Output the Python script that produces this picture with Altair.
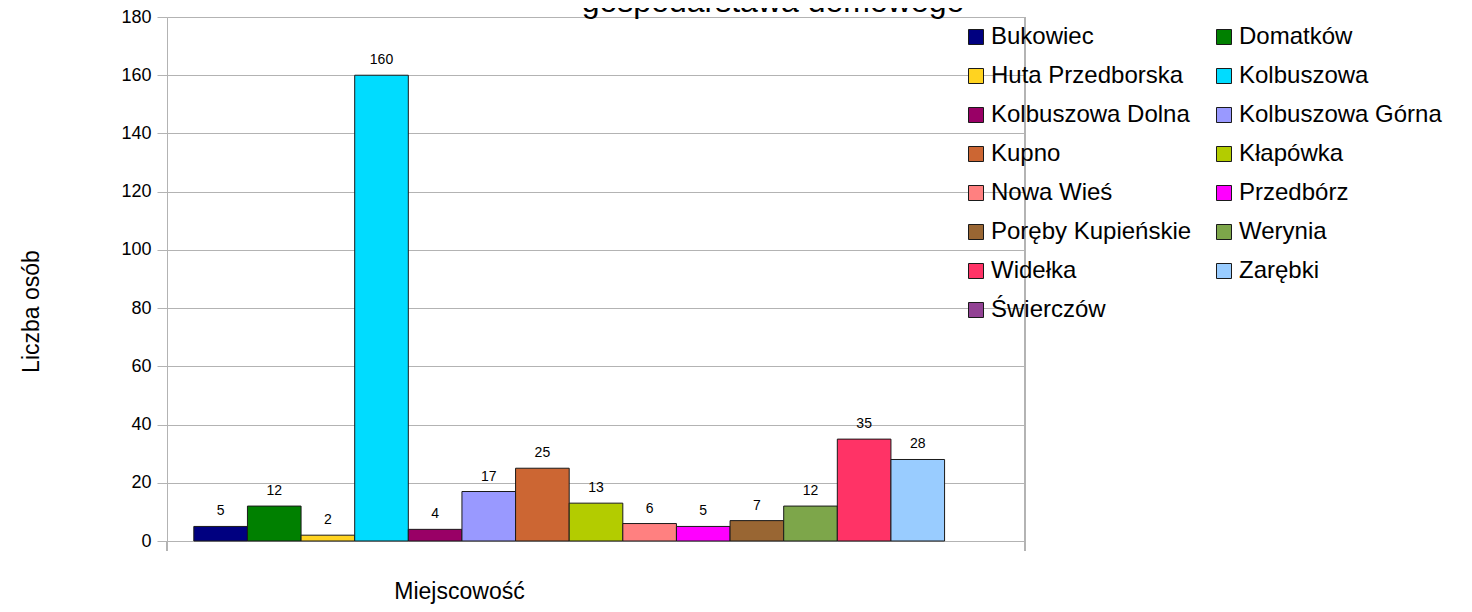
import altair as alt
import pandas as pd

CATEGORIES = [
    "Bukowiec", "Domatków", "Huta Przedborska", "Kolbuszowa", "Kolbuszowa Dolna",
    "Kolbuszowa Górna", "Kupno", "Kłapówka", "Nowa Wieś", "Przedbórz",
    "Poręby Kupieńskie", "Werynia", "Widełka", "Zarębki", "Świerczów",
]
VALUES = [5, 12, 2, 160, 4, 17, 25, 13, 6, 5, 7, 12, 35, 28, 0]
COLORS = [
    "#000080", "#008000", "#ffd320", "#00dcff", "#990066",
    "#9999ff", "#cc6633", "#b3cc00", "#ff8080", "#ff00ff",
    "#996633", "#7da64a", "#ff3366", "#99ccff", "#924294",
]
Y_TICKS = [0, 20, 40, 60, 80, 100, 120, 140, 160, 180]
TITLE_TEXT = ["gospodarstawa domowego"]
X_TITLE = "Miejscowość"
Y_TITLE = "Liczba osób"

FONT = "Liberation Sans"
GRID = "#b3b3b3"
W, H = 858, 524

# legend is filled column by column: reorder so it reads row by row (2 columns)
LEG_DOMAIN = CATEGORIES[0::2] + CATEGORIES[1::2]
LEG_RANGE = COLORS[0::2] + COLORS[1::2]

df = pd.DataFrame({"miejscowosc": CATEGORIES, "liczba": VALUES})

x_scale = alt.Scale(domain=CATEGORIES, paddingInner=0, paddingOuter=0.5)
y_scale = alt.Scale(domain=[0, 180], nice=False)

x_enc = alt.X(
    "miejscowosc:N",
    sort=CATEGORIES,
    scale=x_scale,
    axis=alt.Axis(
        title=X_TITLE, labels=False, ticks=False, domain=False, grid=False,
        titleFont=FONT, titleFontSize=23, titleFontWeight="normal", titleColor="black",
        titleX=292, titleY=57, titleAlign="center", titleBaseline="alphabetic",
    ),
)
y_enc = alt.Y(
    "liczba:Q",
    scale=y_scale,
    axis=alt.Axis(
        title=Y_TITLE, values=Y_TICKS, grid=True, gridColor=GRID, gridWidth=1,
        domainColor=GRID, tickColor=GRID, tickSize=10, labelPadding=6,
        labelFont=FONT, labelFontSize=18, labelColor="black",
        titleFont=FONT, titleFontSize=23, titleFontWeight="normal", titleColor="black",
        titleX=-136, titleY=294, titleAngle=270, titleAlign="center", titleBaseline="middle",
    ),
)

base = alt.Chart(df).transform_filter("datum.liczba > 0")

bars = base.mark_bar(stroke="#1a1a1a", strokeWidth=1, opacity=1).encode(
    x=x_enc,
    y=y_enc,
    color=alt.Color(
        "miejscowosc:N",
        scale=alt.Scale(domain=LEG_DOMAIN, range=LEG_RANGE),
        legend=alt.Legend(
            title=None, orient="none", legendX=797, legendY=8, columns=2,
            symbolType="square", symbolSize=225, symbolStrokeColor="#1a1a1a",
            symbolStrokeWidth=1, symbolOpacity=1,
            labelFont=FONT, labelFontSize=24, labelColor="black", labelOffset=3,
            rowPadding=15, columnPadding=20, padding=0, labelLimit=400,
        ),
    ),
)

labels = base.mark_text(
    font=FONT, fontSize=14, color="black", baseline="alphabetic", dy=-11
).encode(
    x=alt.X("miejscowosc:N", sort=CATEGORIES, scale=x_scale),
    y=alt.Y("liczba:Q", scale=y_scale),
    text="liczba:Q",
)

title = alt.Chart(pd.DataFrame({"t": TITLE_TEXT})).mark_text(
    font=FONT, fontSize=32, color="black", align="center", baseline="alphabetic"
).encode(text="t:N", x=alt.value(606), y=alt.value(-5))

left_ext = alt.Chart(df).mark_rule(color=GRID).encode(
    x=alt.value(0), y=alt.value(H), y2=alt.value(H + 10)
)
right_ext = alt.Chart(df).mark_rule(color=GRID).encode(
    x=alt.value(W), y=alt.value(0), y2=alt.value(H + 10)
)

chart = alt.layer(bars, labels, left_ext, right_ext, title).properties(
    width=W, height=H,
    autosize=alt.AutoSizeParams(type="none"),
    padding={"left": 159, "top": 9, "right": 439, "bottom": 63},
).configure_view(stroke=GRID, strokeWidth=1).configure(background="white")

chart.save("out.html", embed_options={"renderer": "svg", "actions": False})
